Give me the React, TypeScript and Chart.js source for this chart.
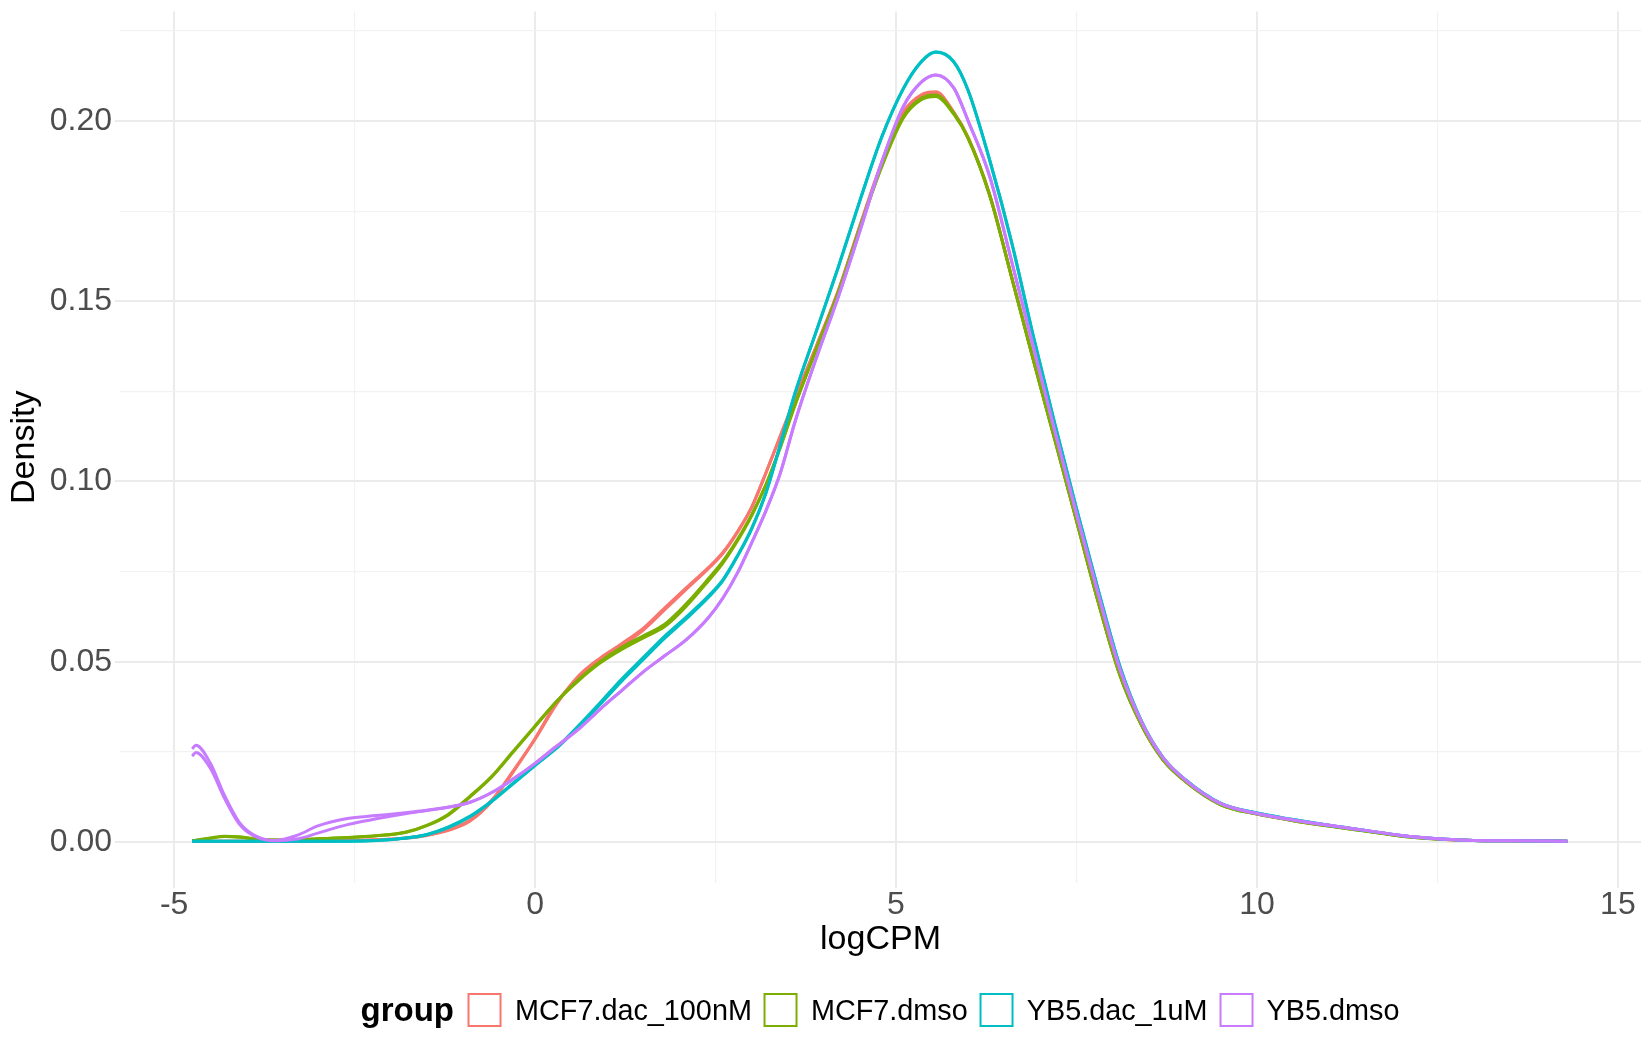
import React, { useEffect, useRef } from 'react';
import { Chart, registerables } from 'chart.js';

Chart.register(...registerables);

// ---- data ----
const logCPM = [
  -4.75, -4.7, -4.5, -4.3, -4.1, -3.9, -3.6, -3.3, -3.0,
  -2.6, -2.2, -1.8, -1.5, -1.2, -0.9, -0.6, -0.3, 0,
  0.3, 0.6, 0.9, 1.2, 1.5, 1.8, 2.1, 2.4, 2.6, 2.8, 3.0, 3.2, 3.4, 3.6,
  3.9, 4.2, 4.5, 4.8, 5.1,
  5.35, 5.55, 5.8, 6.0,
  6.3, 6.6, 6.9, 7.2, 7.5, 7.8, 8.1,
  8.4, 8.7, 9.0, 9.5, 10, 10.5, 11, 11.5, 12, 12.5, 13, 13.5, 14.3,
];

const mcf7Dac100nM_1 = [
  0.0002, 0.0002, 0.0002, 0.0002, 0.0002, 0.0002, 0.0002, 0.0002, 0.0003,
  0.0004, 0.0006, 0.0010, 0.0018, 0.0032, 0.0058, 0.0112, 0.0195, 0.0287,
  0.0387, 0.0455, 0.0505, 0.0545, 0.0588, 0.0645, 0.0702, 0.0758, 0.0800, 0.0858, 0.0928, 0.1025, 0.1128, 0.1230,
  0.1378, 0.1530, 0.1710, 0.1885, 0.2025,
  0.2073, 0.2081, 0.2025, 0.1955,
  0.1795, 0.1570, 0.1341, 0.1118, 0.0893, 0.0668, 0.0465,
  0.0325, 0.0228, 0.0170, 0.0104, 0.0078, 0.0060, 0.0045, 0.0031, 0.0017, 0.0008, 0.0004, 0.0003, 0.0002,
];
const mcf7Dac100nM_2 = [
  0.0002, 0.0002, 0.0002, 0.0002, 0.0002, 0.0002, 0.0002, 0.0002, 0.0003,
  0.0004, 0.0006, 0.0011, 0.0019, 0.0034, 0.0061, 0.0116, 0.0198, 0.0285,
  0.0383, 0.0460, 0.0510, 0.0550, 0.0593, 0.0650, 0.0706, 0.0761, 0.0803, 0.0860, 0.0929, 0.1025, 0.1127, 0.1229,
  0.1376, 0.1528, 0.1708, 0.1882, 0.2022,
  0.2070, 0.2078, 0.2023, 0.1953,
  0.1793, 0.1568, 0.1340, 0.1117, 0.0892, 0.0667, 0.0465,
  0.0325, 0.0228, 0.0170, 0.0104, 0.0078, 0.0060, 0.0045, 0.0031, 0.0017, 0.0008, 0.0004, 0.0003, 0.0002,
];
const mcf7Dmso_1 = [
  0.0003, 0.0005, 0.0011, 0.0016, 0.0014, 0.0009, 0.0005, 0.0006, 0.0009,
  0.0012, 0.0017, 0.0026, 0.0045, 0.0075, 0.0125, 0.0180, 0.0250, 0.0320,
  0.0390, 0.0450, 0.0500, 0.0540, 0.0572, 0.0605, 0.0662, 0.0730, 0.0778, 0.0838, 0.0908, 0.0993, 0.1098, 0.1213,
  0.1370, 0.1525, 0.1705, 0.1875, 0.2012,
  0.2063, 0.2072, 0.2022, 0.1953,
  0.1793, 0.1568, 0.1339, 0.1116, 0.0891, 0.0666, 0.0463,
  0.0324, 0.0227, 0.0169, 0.0103, 0.0077, 0.0059, 0.0044, 0.0030, 0.0016, 0.0008, 0.0004, 0.0003, 0.0002,
];
const mcf7Dmso_2 = [
  0.0003, 0.0004, 0.0010, 0.0015, 0.0013, 0.0009, 0.0005, 0.0006, 0.0009,
  0.0012, 0.0017, 0.0027, 0.0046, 0.0077, 0.0127, 0.0182, 0.0252, 0.0322,
  0.0390, 0.0447, 0.0496, 0.0534, 0.0566, 0.0598, 0.0655, 0.0724, 0.0773, 0.0834, 0.0905, 0.0991, 0.1096, 0.1211,
  0.1368, 0.1523, 0.1703, 0.1872, 0.2008,
  0.2059, 0.2068, 0.2019, 0.1951,
  0.1791, 0.1567, 0.1338, 0.1115, 0.0891, 0.0666, 0.0463,
  0.0324, 0.0227, 0.0169, 0.0103, 0.0077, 0.0059, 0.0044, 0.0030, 0.0016, 0.0008, 0.0004, 0.0003, 0.0002,
];
const yb5Dac1uM_1 = [
  0.0002, 0.0002, 0.0002, 0.0002, 0.0002, 0.0002, 0.0002, 0.0002, 0.0002,
  0.0002, 0.0004, 0.0010, 0.0020, 0.0040, 0.0070, 0.0112, 0.0162, 0.0212,
  0.0262, 0.0322, 0.0386, 0.0452, 0.0512, 0.0572, 0.0625, 0.0682, 0.0727, 0.0793, 0.0870, 0.0970, 0.1105, 0.1245,
  0.1420, 0.1595, 0.1780, 0.1955, 0.2090,
  0.2165, 0.2192, 0.2165, 0.2085,
  0.1890, 0.1665, 0.1405, 0.1160, 0.0925, 0.0700, 0.0488,
  0.0335, 0.0234, 0.0174, 0.0107, 0.0080, 0.0062, 0.0046, 0.0032, 0.0018, 0.0009, 0.0004, 0.0003, 0.0002,
];
const yb5Dac1uM_2 = [
  0.0002, 0.0002, 0.0002, 0.0002, 0.0002, 0.0002, 0.0002, 0.0002, 0.0002,
  0.0002, 0.0004, 0.0011, 0.0021, 0.0042, 0.0072, 0.0114, 0.0164, 0.0213,
  0.0260, 0.0318, 0.0381, 0.0446, 0.0506, 0.0566, 0.0620, 0.0678, 0.0724, 0.0791, 0.0868, 0.0969, 0.1104, 0.1244,
  0.1419, 0.1594, 0.1779, 0.1954, 0.2089,
  0.2164, 0.2191, 0.2164, 0.2084,
  0.1890, 0.1665, 0.1405, 0.1160, 0.0925, 0.0700, 0.0488,
  0.0335, 0.0234, 0.0174, 0.0107, 0.0080, 0.0062, 0.0046, 0.0032, 0.0018, 0.0009, 0.0004, 0.0003, 0.0002,
];
const yb5Dmso_1 = [
  0.0258, 0.0268, 0.0219, 0.0128, 0.0055, 0.0020, 0.0004, 0.0018, 0.0045,
  0.0065, 0.0073, 0.0081, 0.0088, 0.0097, 0.0110, 0.0137, 0.0175, 0.0218,
  0.0266, 0.0312, 0.0368, 0.0420, 0.0472, 0.0517, 0.0562, 0.0622, 0.0676, 0.0745, 0.0830, 0.0920, 0.1025, 0.1165,
  0.1345, 0.1512, 0.1695, 0.1885, 0.2040,
  0.2108, 0.2128, 0.2092, 0.2000,
  0.1845, 0.1612, 0.1375, 0.1140, 0.0910, 0.0688, 0.0480,
  0.0333, 0.0233, 0.0173, 0.0106, 0.0079, 0.0061, 0.0046, 0.0032, 0.0018, 0.0009, 0.0004, 0.0003, 0.0002,
];
const yb5Dmso_2 = [
  0.0238, 0.0248, 0.0205, 0.0120, 0.0050, 0.0017, 0.0003, 0.0008, 0.0025,
  0.0048, 0.0064, 0.0078, 0.0087, 0.0096, 0.0110, 0.0137, 0.0175, 0.0218,
  0.0266, 0.0312, 0.0368, 0.0420, 0.0472, 0.0517, 0.0562, 0.0622, 0.0676, 0.0745, 0.0830, 0.0920, 0.1025, 0.1165,
  0.1345, 0.1512, 0.1695, 0.1885, 0.2040,
  0.2108, 0.2128, 0.2092, 0.2000,
  0.1845, 0.1612, 0.1375, 0.1140, 0.0910, 0.0688, 0.0480,
  0.0333, 0.0233, 0.0173, 0.0106, 0.0079, 0.0061, 0.0046, 0.0032, 0.0018, 0.0009, 0.0004, 0.0003, 0.0002,
];

const groupNames = ['MCF7.dac_100nM', 'MCF7.dmso', 'YB5.dac_1uM', 'YB5.dmso'];
const groupColors = ['#F8766D', '#7CAE00', '#00BFC4', '#C77CFF'];
const sampleGroup = [0, 0, 1, 1, 2, 2, 3, 3];
const sampleValues = [
  mcf7Dac100nM_1, mcf7Dac100nM_2, mcf7Dmso_1, mcf7Dmso_2,
  yb5Dac1uM_1, yb5Dac1uM_2, yb5Dmso_1, yb5Dmso_2,
];

const xTickValues = [-5, -2.5, 0, 2.5, 5, 7.5, 10, 12.5, 15];
const xTickLabels = ['-5', '', '0', '', '5', '', '10', '', '15'];
const yTickValues = [0, 0.025, 0.05, 0.075, 0.1, 0.125, 0.15, 0.175, 0.2, 0.225];
const yTickLabels = ['0.00', '', '0.05', '', '0.10', '', '0.15', '', '0.20', ''];

const FONT = "'Liberation Sans', Arial, Helvetica, sans-serif";
const W = 1650;
const H = 1050;

export default function App() {
  const ref = useRef<HTMLCanvasElement | null>(null);

  useEffect(() => {
    if (!ref.current) return;
    const datasets = sampleValues.map((vals, i) => ({
      label: groupNames[sampleGroup[i]] + '_' + ((i % 2) + 1),
      data: logCPM.map((x, j) => ({ x, y: vals[j] })),
      borderColor: groupColors[sampleGroup[i]],
      backgroundColor: groupColors[sampleGroup[i]],
      borderWidth: 3,
      pointRadius: 0,
      fill: false,
      cubicInterpolationMode: 'monotone' as const,
      order: 10 - i,
    }));

    const isMajor = (labels: string[], idx: number) => labels[idx] !== '';

    const chart = new Chart(ref.current, {
      type: 'line',
      data: { datasets },
      options: {
        animation: false,
        responsive: false,
        maintainAspectRatio: false,
        events: [],
        layout: { padding: { left: 0, right: 9, top: 11.5, bottom: 0 } },
        plugins: {
          legend: { display: false },
          tooltip: { enabled: false },
        },
        scales: {
          x: {
            type: 'linear',
            min: -5.75,
            max: 15.32,
            afterBuildTicks: (s: any) => {
              s.ticks = xTickValues.map((v) => ({ value: v }));
            },
            afterFit: (s: any) => {
              s.height = H - 883;
              s.paddingLeft = 0;
              s.paddingRight = 0;
            },
            ticks: {
              autoSkip: false,
              maxRotation: 0,
              padding: -2,
              color: '#4D4D4D',
              font: { family: FONT, size: 32 },
              callback: (_v: any, i: number) => xTickLabels[i],
            },
            grid: {
              color: (c: any) => (isMajor(xTickLabels, c.index) ? '#EBEBEB' : '#F2F2F2'),
              lineWidth: (c: any) => (isMajor(xTickLabels, c.index) ? 2 : 1.2),
              drawTicks: true,
              tickLength: 5,
              tickColor: (c: any) => (isMajor(xTickLabels, c.index) ? '#EBEBEB' : 'rgba(0,0,0,0)'),
            },
            border: { display: false },
            title: {
              display: true,
              text: 'logCPM',
              color: '#000000',
              font: { family: FONT, size: 34 },
              padding: { top: 0, bottom: 90 },
            },
          },
          y: {
            type: 'linear',
            min: -0.0114,
            max: 0.2304,
            afterBuildTicks: (s: any) => {
              s.ticks = yTickValues.map((v) => ({ value: v }));
            },
            afterFit: (s: any) => {
              s.width = 120;
              s.paddingTop = 0;
              s.paddingBottom = 0;
            },
            ticks: {
              autoSkip: false,
              padding: 3,
              color: '#4D4D4D',
              font: { family: FONT, size: 32 },
              callback: (_v: any, i: number) => yTickLabels[i],
            },
            grid: {
              color: (c: any) => (isMajor(yTickLabels, c.index) ? '#EBEBEB' : '#F2F2F2'),
              lineWidth: (c: any) => (isMajor(yTickLabels, c.index) ? 2 : 1.2),
              drawTicks: true,
              tickLength: 5,
              tickColor: (c: any) => (isMajor(yTickLabels, c.index) ? '#EBEBEB' : 'rgba(0,0,0,0)'),
            },
            border: { display: false },
            title: {
              display: true,
              text: 'Density',
              color: '#000000',
              font: { family: FONT, size: 34 },
              padding: { top: 4, bottom: 0 },
            },
          },
        },
      },
    });
    return () => chart.destroy();
  }, []);

  return (
    <div style={{ position: 'absolute', left: 0, top: 0, width: W, height: H, background: '#FFFFFF' }}>
      <canvas ref={ref} width={W} height={H} style={{ position: 'absolute', left: 0, top: 0, width: W, height: H }} />
      <div
        style={{
          position: 'absolute',
          left: 880,
          top: 1010,
          transform: 'translate(-50%, -50%)',
          display: 'flex',
          alignItems: 'center',
          whiteSpace: 'nowrap',
          fontFamily: FONT,
          color: '#000000',
        }}
      >
        <span style={{ fontWeight: 'bold', fontSize: 33, marginRight: 14 }}>group</span>
        {groupNames.map((name, i) => (
          <React.Fragment key={name}>
            <span
              style={{
                display: 'inline-block',
                width: 34,
                height: 34,
                boxSizing: 'border-box',
                border: `2px solid ${groupColors[i]}`,
                marginRight: 13,
              }}
            />
            <span style={{ fontSize: 28.8, marginRight: i < groupNames.length - 1 ? 12 : 0 }}>{name}</span>
          </React.Fragment>
        ))}
      </div>
    </div>
  );
}
